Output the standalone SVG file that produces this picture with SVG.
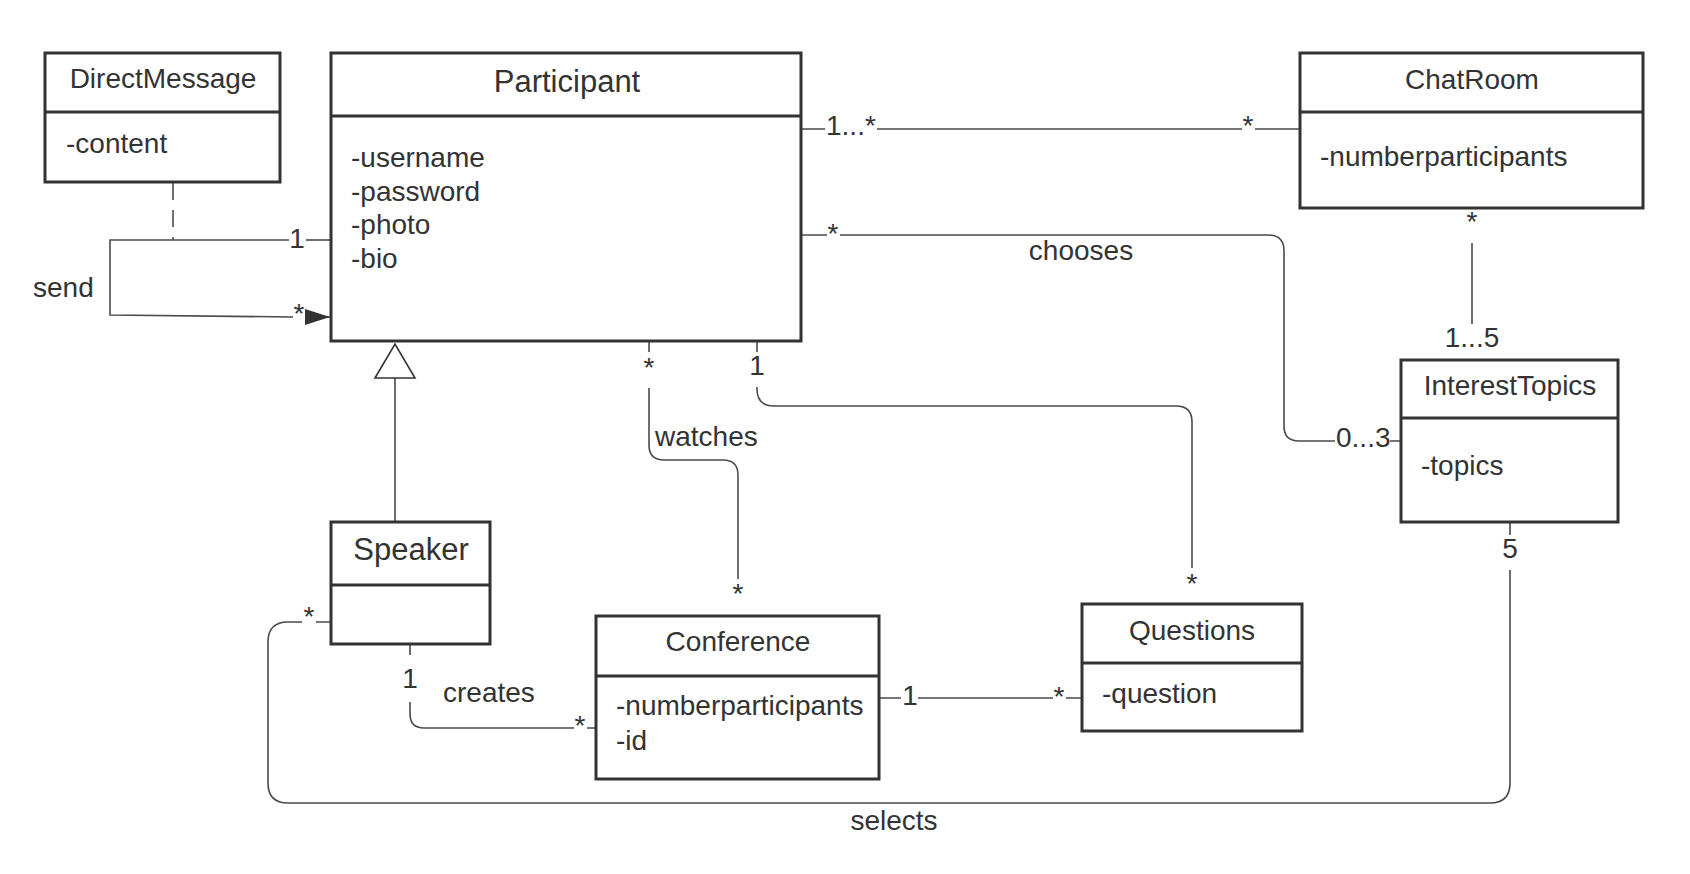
<svg xmlns="http://www.w3.org/2000/svg" width="1690" height="874" viewBox="0 0 1690 874">
<style>
.box{fill:#fff;stroke:#333;stroke-width:3}
.div{stroke:#333;stroke-width:3}
.t{font-family:"Liberation Sans",Arial,sans-serif;font-size:28px;fill:#333}
.big{font-size:31px}
.c{text-anchor:middle}
.ln{fill:none;stroke:#4a4a4a;stroke-width:1.6}
.dash{stroke-dasharray:17 10}
</style>
<defs>
<marker id="filled" markerUnits="userSpaceOnUse" markerWidth="26" markerHeight="18" refX="25" refY="8" orient="auto" style="overflow:visible"><path d="M0,0 L25,8 L0,16 Z" fill="#333"/></marker>
<marker id="hollow" markerUnits="userSpaceOnUse" markerWidth="36" markerHeight="42" refX="34" refY="20" orient="auto" style="overflow:visible"><path d="M0,0 L34,20 L0,40 Z" fill="#fff" stroke="#333" stroke-width="1.6"/></marker>
</defs>
<rect width="1690" height="874" fill="#fff"/>

<g id="connectors">
  <!-- send -->
  <path class="ln dash" d="M173,183 V240"/>
  <path class="ln" d="M289,240 H110 V315 L293,317"/>
  <path class="ln" d="M306,240 H331"/>
  <path class="ln" d="M305,317 H330" marker-end="url(#filled)"/>
  <text class="t c" x="297" y="248">1</text>
  <text class="t c" x="299" y="323">*</text>
  <text class="t" x="33" y="297">send</text>
  <!-- Participant - ChatRoom -->
  <path class="ln" d="M801,129 H825 M877,129 H1242 M1255,129 H1300"/>
  <text class="t" x="826" y="135">1...*</text>
  <text class="t c" x="1248" y="135">*</text>
  <!-- chooses -->
  <path class="ln" d="M801,235 H827 M840,235 H1268 Q1284,235 1284,251 V426 Q1284,441 1299,441 H1335 M1390,441 H1401"/>
  <text class="t c" x="833" y="243">*</text>
  <text class="t" x="1336" y="447">0...3</text>
  <text class="t c" x="1081" y="260">chooses</text>
  <!-- ChatRoom - InterestTopics -->
  <path class="ln" d="M1472,243 V324"/>
  <text class="t c" x="1472" y="231">*</text>
  <text class="t c" x="1472" y="347">1...5</text>
  <!-- Participant - Questions -->
  <path class="ln" d="M757,341 V352 M757,387 V389 Q757,406 774,406 H1176 Q1192,406 1192,422 V568"/>
  <text class="t c" x="757" y="375">1</text>
  <text class="t c" x="1192" y="593">*</text>
  <!-- watches -->
  <path class="ln" d="M649,341 V352 M649,388 V445 Q649,460 664,460 H723 Q738,460 738,475 V579"/>
  <text class="t c" x="649" y="377">*</text>
  <text class="t c" x="738" y="603">*</text>
  <text class="t" x="655" y="446">watches</text>
  <!-- generalization -->
  <path class="ln" d="M395,522 V344" marker-end="url(#hollow)"/>
  <!-- creates -->
  <path class="ln" d="M410,644 V655 M410,702 V714 Q410,728 424,728 H574 M587,728 H596"/>
  <text class="t c" x="410" y="688">1</text>
  <text class="t c" x="580" y="735">*</text>
  <text class="t" x="443" y="702">creates</text>
  <!-- Conference - Questions -->
  <path class="ln" d="M879,698 H901 M918,698 H1053 M1066,698 H1082"/>
  <text class="t c" x="910" y="705">1</text>
  <text class="t c" x="1059" y="706">*</text>
  <!-- selects -->
  <path class="ln" d="M331,622 H316 M302,622 H288 Q268,622 268,642 V783 Q268,803 288,803 H1490 Q1510,803 1510,783 V570 M1510,522 V535"/>
  <text class="t c" x="309" y="626">*</text>
  <text class="t c" x="1510" y="558">5</text>
  <text class="t c" x="894" y="830">selects</text>
</g>

<g id="DirectMessage">
  <rect class="box" x="45" y="53" width="235" height="129"/>
  <line class="div" x1="45" y1="112" x2="280" y2="112"/>
  <text class="t c" x="163" y="88">DirectMessage</text>
  <text class="t" x="66" y="153">-content</text>
</g>

<g id="Participant">
  <rect class="box" x="331" y="53" width="470" height="288"/>
  <line class="div" x1="331" y1="116" x2="801" y2="116"/>
  <text class="t big c" x="567" y="92">Participant</text>
  <text class="t" x="351" y="167">-username</text>
  <text class="t" x="351" y="201">-password</text>
  <text class="t" x="351" y="234">-photo</text>
  <text class="t" x="351" y="268">-bio</text>
</g>

<g id="ChatRoom">
  <rect class="box" x="1300" y="53" width="343" height="155"/>
  <line class="div" x1="1300" y1="112" x2="1643" y2="112"/>
  <text class="t c" x="1472" y="89">ChatRoom</text>
  <text class="t" x="1320" y="166">-numberparticipants</text>
</g>

<g id="InterestTopics">
  <rect class="box" x="1401" y="360" width="217" height="162"/>
  <line class="div" x1="1401" y1="418" x2="1618" y2="418"/>
  <text class="t c" x="1510" y="395">InterestTopics</text>
  <text class="t" x="1421" y="475">-topics</text>
</g>

<g id="Speaker">
  <rect class="box" x="331" y="522" width="159" height="122"/>
  <line class="div" x1="331" y1="585" x2="490" y2="585"/>
  <text class="t big c" x="411" y="560">Speaker</text>
</g>

<g id="Conference">
  <rect class="box" x="596" y="616" width="283" height="163"/>
  <line class="div" x1="596" y1="676" x2="879" y2="676"/>
  <text class="t c" x="738" y="651">Conference</text>
  <text class="t" x="616" y="715">-numberparticipants</text>
  <text class="t" x="616" y="750">-id</text>
</g>

<g id="Questions">
  <rect class="box" x="1082" y="604" width="220" height="127"/>
  <line class="div" x1="1082" y1="663" x2="1302" y2="663"/>
  <text class="t c" x="1192" y="640">Questions</text>
  <text class="t" x="1102" y="703">-question</text>
</g>
</svg>
